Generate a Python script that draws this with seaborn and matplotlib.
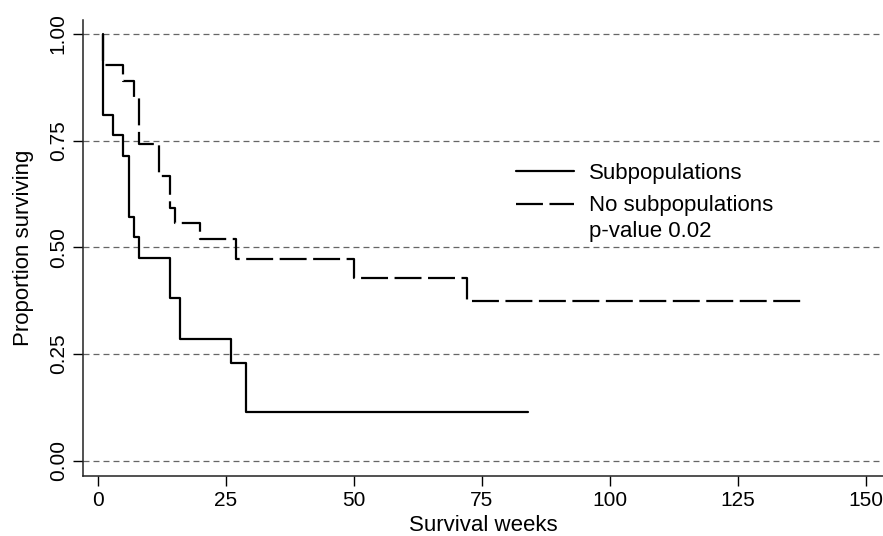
import numpy as np
import pandas as pd
import matplotlib
matplotlib.use('Agg')
import matplotlib.pyplot as plt
import seaborn as sns

# Kaplan-Meier step values
sub_weeks = [1, 1, 3, 5, 6, 7, 8, 14, 16, 26, 29, 84]
sub_surv = [1.0, 0.81, 0.762, 0.714, 0.571, 0.524, 0.476, 0.381, 0.286, 0.229, 0.114, 0.114]

nosub_weeks = [1, 1, 5, 7, 8, 12, 14, 15, 20, 27, 50, 72, 138]
nosub_surv = [1.0, 0.926, 0.889, 0.852, 0.741, 0.667, 0.593, 0.556, 0.519, 0.472, 0.427, 0.374, 0.374]

x_ticks = [0, 25, 50, 75, 100, 125, 150]
y_ticks = [0.0, 0.25, 0.5, 0.75, 1.0]
y_tick_labels = ['0.00', '0.25', '0.50', '0.75', '1.00']

sns.set_style('ticks')
plt.rcParams['font.family'] = ['Liberation Sans', 'DejaVu Sans']
plt.rcParams['lines.scale_dashes'] = False
plt.rcParams['text.color'] = 'black'
plt.rcParams['axes.labelcolor'] = 'black'
plt.rcParams['xtick.color'] = 'black'
plt.rcParams['ytick.color'] = 'black'

df_sub = pd.DataFrame({'weeks': sub_weeks, 'surv': sub_surv})
df_nosub = pd.DataFrame({'weeks': nosub_weeks, 'surv': nosub_surv})

fig = plt.figure(figsize=(8.83, 5.36), dpi=100)
ax = fig.add_axes([0.094, 0.112, 0.906, 0.851])

# dashed horizontal grid
for yv in y_ticks:
    ax.axhline(yv, color='#666666', lw=0.9, linestyle=(0, (4.3, 2.9)), zorder=1)

sns.lineplot(data=df_sub, x='weeks', y='surv', ax=ax, estimator=None, sort=False,
             drawstyle='steps-post', color='black', lw=1.6, label='Subpopulations')
sns.lineplot(data=df_nosub, x='weeks', y='surv', ax=ax, estimator=None, sort=False,
             drawstyle='steps-post', color='black', lw=1.6, label='No subpopulations')
ax.lines[-1].set_dashes((19.4, 4.7))

ax.set_xlim(-2.9, 153.3)
ax.set_ylim(-0.036, 1.033)
ax.set_xticks(x_ticks)
ax.set_yticks(y_ticks)
ax.set_yticklabels(y_tick_labels)
ax.tick_params(axis='both', labelsize=15, length=7, width=1, color='black')
ax.tick_params(axis='x', pad=3.5)
ax.tick_params(axis='y', pad=4, labelrotation=90)
for lab in ax.get_yticklabels():
    lab.set_va('center')

ax.set_xlabel('Survival weeks', fontsize=16, labelpad=4)
ax.set_ylabel('Proportion surviving', fontsize=16, labelpad=10.5)

sns.despine(ax=ax)
for sp in ['left', 'bottom']:
    ax.spines[sp].set_linewidth(1.1)
    ax.spines[sp].set_color('#222222')

leg = ax.legend(loc='upper left', bbox_to_anchor=(0.541, 0.687), frameon=False,
                fontsize=16, handlelength=2.6, handletextpad=0.68, borderpad=0,
                borderaxespad=0, labelspacing=0.53)
for h in leg.get_lines():
    h.set_linewidth(1.6)
leg.get_lines()[1].set_dashes((19.4, 4.7))

ax.text(95.9, 0.536, 'p-value 0.02', fontsize=16, va='center', ha='left')

fig.savefig('out.png', dpi=100)
